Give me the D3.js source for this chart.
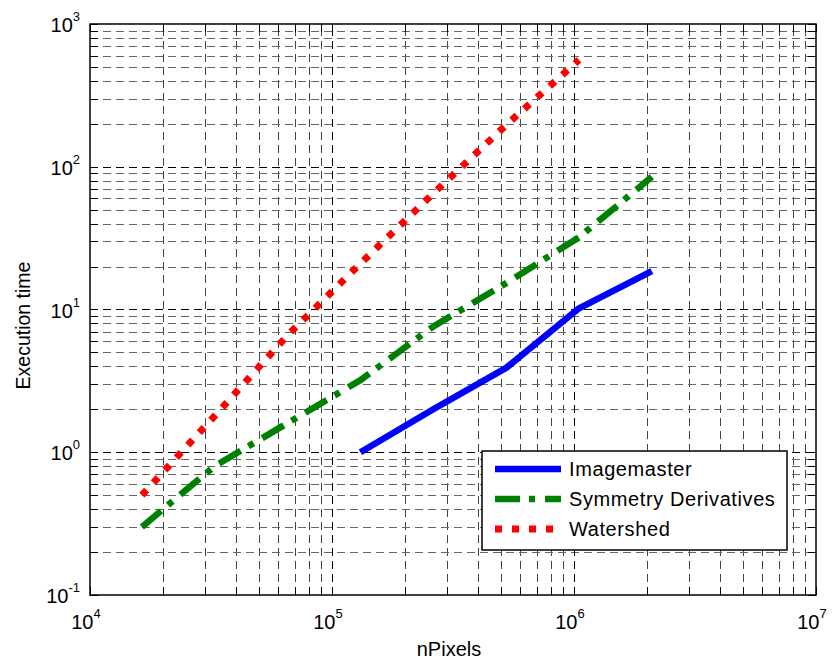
<!DOCTYPE html>
<html>
<head>
<meta charset="utf-8">
<script src="https://cdn.jsdelivr.net/npm/d3@7"></script>
<style>
  body { margin: 0; background: #fff; }
  text { font-family: "Liberation Sans", Arial, sans-serif; }
</style>
</head>
<body>
<div id="chart"></div>
<script>
// data
const nPixels = [16384, 32768, 65536, 131072, 262144, 524288, 1048576, 2097152];
const imagemaster = [null, null, null, 1.0, 2.0, 3.9, 10.2, 18.6];
const symmetry = [0.3, 0.8, 1.6, 3.2, 7.6, 15.3, 32, 85];
const watershed = [0.5, 1.8, 6.6, 21, 65, 196, 560, null];

const seriesNames = ["Imagemaster", "Symmetry Derivatives", "Watershed"];
const xDecades = [1e4, 1e5, 1e6, 1e7];
const yDecades = [1e-1, 1e0, 1e1, 1e2, 1e3];
const xExp = ["4", "5", "6", "7"];
const yExp = ["-1", "0", "1", "2", "3"];

const width = 833, height = 660;
const margin = { top: 24, right: 17, bottom: 65, left: 90 };

const svg = d3.select("#chart")
  .append("svg")
  .attr("width", width)
  .attr("height", height);

const x = d3.scaleLog()
  .domain([1e4, 1e7])
  .range([margin.left, width - margin.right]);

const y = d3.scaleLog()
  .domain([0.1, 1000])
  .range([height - margin.bottom, margin.top]);

// minor positions (2..9 in each decade)
function minors(decades) {
  let out = [];
  for (let i = 0; i < decades.length - 1; i++) {
    for (let k = 2; k <= 9; k++) out.push(decades[i] * k);
  }
  return out;
}
const xMinor = minors(xDecades);
const yMinor = minors(yDecades);

const x0 = x.range()[0], x1 = x.range()[1];
const y0 = y.range()[0], y1 = y.range()[1];

// grid
const grid = svg.append("g")
  .attr("fill", "none")
  .attr("stroke-dasharray", "8,5")
  .attr("stroke-width", 1);

grid.selectAll(".vminor").data(xMinor).join("line")
  .attr("x1", d => Math.round(x(d)) + 0.5).attr("x2", d => Math.round(x(d)) + 0.5)
  .attr("y1", y0).attr("y2", y1)
  .attr("stroke", "#444");
grid.selectAll(".hminor").data(yMinor).join("line")
  .attr("y1", d => Math.round(y(d)) + 0.5).attr("y2", d => Math.round(y(d)) + 0.5)
  .attr("x1", x0).attr("x2", x1)
  .attr("stroke", "#666");
grid.selectAll(".vmajor").data(xDecades.slice(1, -1)).join("line")
  .attr("x1", d => Math.round(x(d)) + 0.5).attr("x2", d => Math.round(x(d)) + 0.5)
  .attr("y1", y0).attr("y2", y1)
  .attr("stroke", "#000");
grid.selectAll(".hmajor").data(yDecades.slice(1, -1)).join("line")
  .attr("y1", d => Math.round(y(d)) + 0.5).attr("y2", d => Math.round(y(d)) + 0.5)
  .attr("x1", x0).attr("x2", x1)
  .attr("stroke", "#000");

// ticks on all four sides, pointing in
const tickLen = 8;
const allX = xDecades.concat(xMinor);
const allY = yDecades.concat(yMinor);
const ticks = svg.append("g").attr("stroke", "#000").attr("stroke-width", 1);
ticks.selectAll(".tb").data(allX).join("line")
  .attr("x1", d => Math.round(x(d)) + 0.5).attr("x2", d => Math.round(x(d)) + 0.5)
  .attr("y1", y0).attr("y2", y0 - tickLen);
ticks.selectAll(".tt").data(allX).join("line")
  .attr("x1", d => Math.round(x(d)) + 0.5).attr("x2", d => Math.round(x(d)) + 0.5)
  .attr("y1", y1).attr("y2", y1 + tickLen);
ticks.selectAll(".tl").data(allY).join("line")
  .attr("y1", d => Math.round(y(d)) + 0.5).attr("y2", d => Math.round(y(d)) + 0.5)
  .attr("x1", x0).attr("x2", x0 + tickLen);
ticks.selectAll(".tr").data(allY).join("line")
  .attr("y1", d => Math.round(y(d)) + 0.5).attr("y2", d => Math.round(y(d)) + 0.5)
  .attr("x1", x1).attr("x2", x1 - tickLen);

// box
svg.append("rect")
  .attr("x", x0).attr("y", y1)
  .attr("width", x1 - x0).attr("height", y0 - y1)
  .attr("fill", "none").attr("stroke", "#000").attr("stroke-width", 1.5);

// tick labels
const xl = svg.append("g").selectAll("text").data(xDecades).join("text")
  .attr("x", d => x(d) - 4)
  .attr("y", y0 + 34)
  .attr("text-anchor", "middle")
  .style("font-size", "20px");
xl.append("tspan").text("10");
xl.append("tspan").attr("dy", -11).style("font-size", "13px").text((d, i) => xExp[i]);

const yl = svg.append("g").selectAll("text").data(yDecades).join("text")
  .attr("x", x0 - 10)
  .attr("y", d => y(d) + 8)
  .attr("text-anchor", "end")
  .style("font-size", "20px");
yl.append("tspan").text("10");
yl.append("tspan").attr("dy", -11).style("font-size", "13px").text((d, i) => yExp[i]);

// axis titles
svg.append("text")
  .attr("x", (x0 + x1) / 2 - 4)
  .attr("y", height - 4)
  .attr("text-anchor", "middle")
  .style("font-size", "20px")
  .text("nPixels");

svg.append("text")
  .attr("transform", `translate(30, ${(y0 + y1) / 2 + 16}) rotate(-90)`)
  .attr("text-anchor", "middle")
  .style("font-size", "19.5px")
  .text("Execution time");

// lines
const styles = [
  { color: "#0000ff", dash: null, w: 6.5 },
  { color: "#008000", dash: "25,9,6,10", w: 6.5 },
  { color: "#ff0000", dash: "7,10", w: 7 }
];
const seriesValues = [imagemaster, symmetry, watershed];

const line = d3.line()
  .defined(d => d[1] != null)
  .x(d => x(d[0]))
  .y(d => y(d[1]));

svg.append("g").selectAll("path")
  .data(seriesValues)
  .join("path")
  .attr("d", vals => line(nPixels.map((n, i) => [n, vals[i]])))
  .attr("fill", "none")
  .attr("stroke", (d, i) => styles[i].color)
  .attr("stroke-width", (d, i) => styles[i].w)
  .attr("stroke-linejoin", "round")
  .attr("stroke-dasharray", (d, i) => styles[i].dash);

// legend
const legend = svg.append("g").attr("transform", "translate(482, 451)");
legend.append("rect")
  .attr("width", 305).attr("height", 99)
  .attr("fill", "#fff").attr("stroke", "#000").attr("stroke-width", 1.5);

const rows = legend.selectAll(".row").data(seriesNames).join("g")
  .attr("transform", (d, i) => `translate(0, ${18 + i * 30})`);
rows.append("line")
  .attr("x1", 13).attr("x2", 79)
  .attr("stroke", (d, i) => styles[i].color)
  .attr("stroke-width", (d, i) => styles[i].w)
  .attr("stroke-dasharray", (d, i) => styles[i].dash);
rows.append("text")
  .attr("x", 87)
  .attr("y", 7)
  .style("font-size", "20px")
  .style("letter-spacing", "0.6px")
  .text(d => d);
</script>
</body>
</html>
